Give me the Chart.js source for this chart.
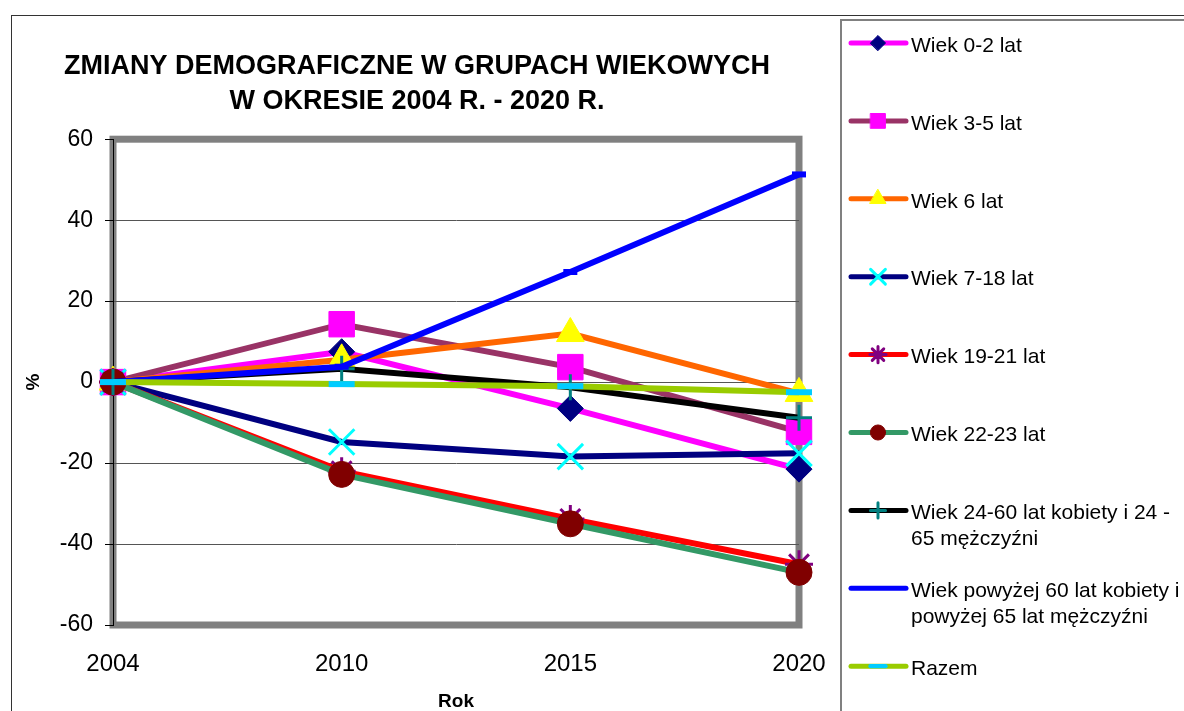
<!DOCTYPE html>
<html>
<head>
<meta charset="utf-8">
<script src="https://cdn.jsdelivr.net/npm/chart.js@4.4.1/dist/chart.umd.min.js"></script>
<style>
  html, body { margin: 0; padding: 0; background: #fff; }
  #wrap { width: 1184px; height: 711px; }
</style>
</head>
<body>
<div id="wrap"><canvas id="demoChart" width="1184" height="711"></canvas></div>
<script>
// Data (change in % vs 2004)
const years = ["2004", "2010", "2015", "2020"];
const yTicks = [-60, -40, -20, 0, 20, 40, 60];

const wiek0_2 = [0, 7.5, -6.5, -21.5];
const wiek3_5 = [0, 14.3, 3.7, -12.3];
const wiek6 = [0, 5.5, 12, -2.8];
const wiek7_18 = [0, -14.8, -18.4, -17.6];
const wiek19_21 = [0, -22, -33.8, -45];
const wiek22_23 = [0, -22.8, -35, -47];
const wiek24_60 = [0, 3.3, -1.3, -8.8];
const wiekPowyzej60 = [0, 3.8, 27.2, 51.3];
const razem = [0, -0.5, -1, -2.5];

const labels = [
  ["Wiek 0-2 lat"],
  ["Wiek 3-5 lat"],
  ["Wiek 6 lat"],
  ["Wiek 7-18 lat"],
  ["Wiek 19-21 lat"],
  ["Wiek 22-23 lat"],
  ["Wiek 24-60 lat kobiety i 24 -", "65 mężczyźni"],
  ["Wiek powyżej 60 lat kobiety i", "powyżej 65 lat mężczyźni"],
  ["Razem"],
];

const FONT = "'Liberation Sans', Arial, sans-serif";

// series styles: line colour, marker style, marker fill, marker stroke, radius, marker width
const styles = [
  { line: "#FF00FF", style: "rectRot", fill: "#000080", stroke: "#000080", r: 13, w: 1 },
  { line: "#993366", style: "rect", fill: "#FF00FF", stroke: "#FF00FF", r: 18, w: 1 },
  { line: "#FF6600", style: "triangle", fill: "#FFFF00", stroke: "#FFFF00", r: 16, w: 1 },
  { line: "#000080", style: "crossRot", fill: "#00FFFF", stroke: "#00FFFF", r: 18, w: 3 },
  { line: "#FF0000", style: "star", fill: "#800080", stroke: "#800080", r: 14, w: 3 },
  { line: "#339966", style: "circle", fill: "#800000", stroke: "#800000", r: 13, w: 1 },
  { line: "#000000", style: "cross", fill: "#008080", stroke: "#008080", r: 13, w: 3 },
  { line: "#0000FF", style: "line", fill: "#0000FF", stroke: "#0000FF", r: 7, w: 6 },
  { line: "#99CC00", style: "line", fill: "#00CCFF", stroke: "#00CCFF", r: 13, w: 6 },
];

const seriesData = [wiek0_2, wiek3_5, wiek6, wiek7_18, wiek19_21, wiek22_23, wiek24_60, wiekPowyzej60, razem];

const datasets = seriesData.map((d, i) => ({
  label: labels[i].join(" "),
  data: d,
  borderColor: styles[i].line,
  backgroundColor: styles[i].fill,
  borderWidth: 6,
  tension: 0,
  pointStyle: styles[i].style,
  pointRadius: styles[i].r,
  pointBackgroundColor: styles[i].fill,
  pointBorderColor: styles[i].stroke,
  pointBorderWidth: styles[i].w,
  clip: false,
  order: seriesData.length - i, // later series drawn on top, like the original
}));

function drawMarker(ctx, s, x, y, scale) {
  ctx.save();
  ctx.fillStyle = s.fill;
  ctx.strokeStyle = s.stroke;
  ctx.lineWidth = s.style === "line" ? Math.max(3, s.w * 0.7) : s.w;
  if (Chart.helpers && Chart.helpers.drawPoint) {
    Chart.helpers.drawPoint(ctx, { pointStyle: s.style, radius: s.r * scale, borderWidth: ctx.lineWidth, rotation: 0 }, x, y);
  } else {
    ctx.beginPath();
    ctx.arc(x, y, s.r * scale, 0, Math.PI * 2);
    ctx.fill();
  }
  ctx.restore();
}

const framePlugin = {
  id: "frame",
  beforeDraw(chart) {
    const { ctx, chartArea: a } = chart;
    ctx.save();
    ctx.fillStyle = "#fff";
    ctx.fillRect(0, 0, chart.width, chart.height);
    // outer chart border
    ctx.strokeStyle = "#333";
    ctx.lineWidth = 1;
    ctx.strokeRect(11.5, 15.5, 1300, 800);
    // legend box
    ctx.strokeStyle = "#808080";
    ctx.lineWidth = 2;
    ctx.strokeRect(841, 20, 400, 800);
    // plot area frame
    ctx.strokeStyle = "#808080";
    ctx.lineWidth = 7;
    ctx.strokeRect(a.left, a.top, a.right - a.left, a.bottom - a.top);
    ctx.restore();
  },
  afterDraw(chart) {
    const ctx = chart.ctx;
    const top = 43, step = 77.9;
    ctx.save();
    styles.forEach((s, i) => {
      const y = top + step * i;
      ctx.strokeStyle = s.line;
      ctx.lineWidth = 5;
      ctx.lineCap = "round";
      ctx.beginPath();
      ctx.moveTo(851, y);
      ctx.lineTo(906, y);
      ctx.stroke();
      if (i !== 7) drawMarker(ctx, s, 878, y, 0.58);
      ctx.fillStyle = "#000";
      ctx.font = "21px " + FONT;
      ctx.textBaseline = "middle";
      ctx.textAlign = "left";
      labels[i].forEach((t, k) => ctx.fillText(t, 911, y + 3 + k * 26));
    });
    ctx.restore();
  },
};

const ctx = document.getElementById("demoChart").getContext("2d");
const chart = new Chart(ctx, {
  type: "line",
  data: { labels: years, datasets: datasets },
  plugins: [framePlugin],
  options: {
    responsive: false,
    animation: false,
    events: [],
    layout: { padding: { left: 35, right: 385, top: 0, bottom: 0 } },
    plugins: {
      legend: { display: false },
      tooltip: { enabled: false },
      title: {
        display: true,
        text: ["ZMIANY DEMOGRAFICZNE W GRUPACH WIEKOWYCH", "W OKRESIE 2004 R. - 2020 R."],
        color: "#000",
        font: { family: FONT, size: 27, weight: "bold", lineHeight: 1.3 },
        padding: { top: 49, bottom: 20 },
      },
    },
    scales: {
      x: {
        offset: false,
        grid: { display: false, drawTicks: false },
        border: { display: false },
        ticks: { color: "#000", font: { family: FONT, size: 24 }, padding: 25, maxRotation: 0 },
        title: {
          display: true,
          text: "Rok",
          color: "#000",
          font: { family: FONT, size: 19, weight: "bold" },
          padding: { top: 0, bottom: -2 },
        },
        afterFit(scale) { scale.height = 86; },
      },
      y: {
        min: -60,
        max: 60,
        afterBuildTicks(scale) { scale.ticks = yTicks.map(v => ({ value: v })); },
        grid: {
          color: c => (c.tick && Math.abs(c.tick.value) === 60 ? "rgba(0,0,0,0)" : "#555"),
          tickColor: "#000",
          tickLength: 8,
          lineWidth: 1,
        },
        border: { display: true, color: "#000", width: 1 },
        ticks: { color: "#000", font: { family: FONT, size: 23 }, padding: 12 },
        title: {
          display: true,
          text: "%",
          color: "#000",
          font: { family: FONT, size: 19, weight: "bold" },
          padding: { top: -13, bottom: 0 },
        },
        afterFit(scale) { scale.width = 78; },
      },
    },
  },
});
</script>
</body>
</html>
